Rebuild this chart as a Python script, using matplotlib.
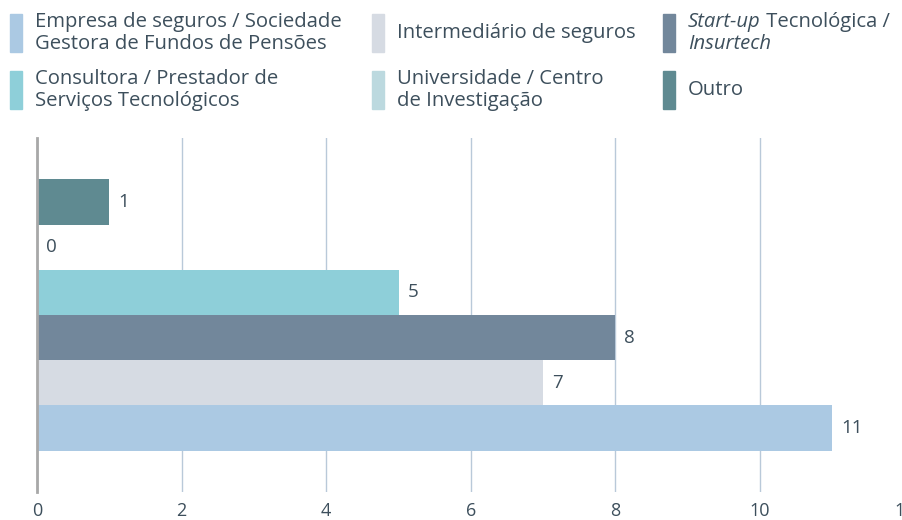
import matplotlib
matplotlib.use('Agg')
import matplotlib.pyplot as plt
from matplotlib.patches import Rectangle
from matplotlib.transforms import offset_copy

plt.rcParams['font.family'] = ['Open Sans', 'DejaVu Sans']

# --- dados ---
categorias = [
    'Empresa de seguros / Sociedade\nGestora de Fundos de Pensões',
    'Intermediário de seguros',
    'Start-up Tecnológica /\nInsurtech',
    'Consultora / Prestador de\nServiços Tecnológicos',
    'Universidade / Centro\nde Investigação',
    'Outro',
]
valores = [11, 7, 8, 5, 0, 1]
cores = ['#abc9e3', '#d6dbe3', '#72879b', '#8ecfd9', '#bcd9df', '#5f8a91']
xticks = [0, 2, 4, 6, 8, 10, 12]

TXT = '#3d4f5c'
GRID = '#b9c9d9'

fig = plt.figure(figsize=(9.02, 5.20), dpi=100)
ax = fig.add_axes([37/902, 28/520, (904.6-37)/902, (492-138)/520])

h = 0.1277
pos = [(i - 2.5) * h for i in range(len(valores))]
ax.barh(pos, valores, height=h, color=cores, zorder=3)

for y, v in zip(pos, valores):
    t = offset_copy(ax.transData, fig=fig, x=9, y=0, units='dots')
    ax.text(v, y, str(v), transform=t, va='center', ha='left',
            fontsize=13.5, color=TXT)

ax.set_xlim(0, 12)
ax.set_ylim(-0.5, 0.5)
ax.set_xticks(xticks)
ax.set_yticks([])
ax.tick_params(axis='x', length=0, pad=7, labelsize=13, labelcolor=TXT)
ax.grid(axis='x', color=GRID, linewidth=1, zorder=0)
for s in ['top', 'right', 'bottom']:
    ax.spines[s].set_visible(False)
ax.spines['left'].set_color('#a8a8a8')
ax.spines['left'].set_linewidth(2)
ax.spines['left'].set_zorder(4)

# --- legenda manual ---
cols_x = [10, 372, 663]
rows_y = [33, 90]
fs = 14.6
renderer = fig.canvas.get_renderer()
for i, (lab, c) in enumerate(zip(categorias, cores)):
    col = i % 3
    row = i // 3
    px = cols_x[col]
    cy = rows_y[row]
    fig.patches.append(Rectangle((px/902, 1 - (cy+19)/520), 12/902, 38/520,
                                 transform=fig.transFigure, color=c))
    tx = (px + 25) / 902
    ty = 1 - cy/520
    if lab.startswith('Start-up'):
        # primeira linha: parte em itálico
        l1 = fig.text(tx, ty + 11/520, 'Start-up', style='italic', fontsize=fs,
                      color=TXT, va='center', ha='left')
        bb = l1.get_window_extent(renderer)
        fig.text(bb.x1/902, ty + 11/520, ' Tecnológica /', fontsize=fs,
                 color=TXT, va='center', ha='left')
        fig.text(tx, ty - 11/520, 'Insurtech', style='italic', fontsize=fs,
                 color=TXT, va='center', ha='left')
    else:
        fig.text(tx, ty, lab, fontsize=fs, color=TXT, va='center', ha='left',
                 linespacing=1.15)

fig.savefig('out.png', dpi=100)
